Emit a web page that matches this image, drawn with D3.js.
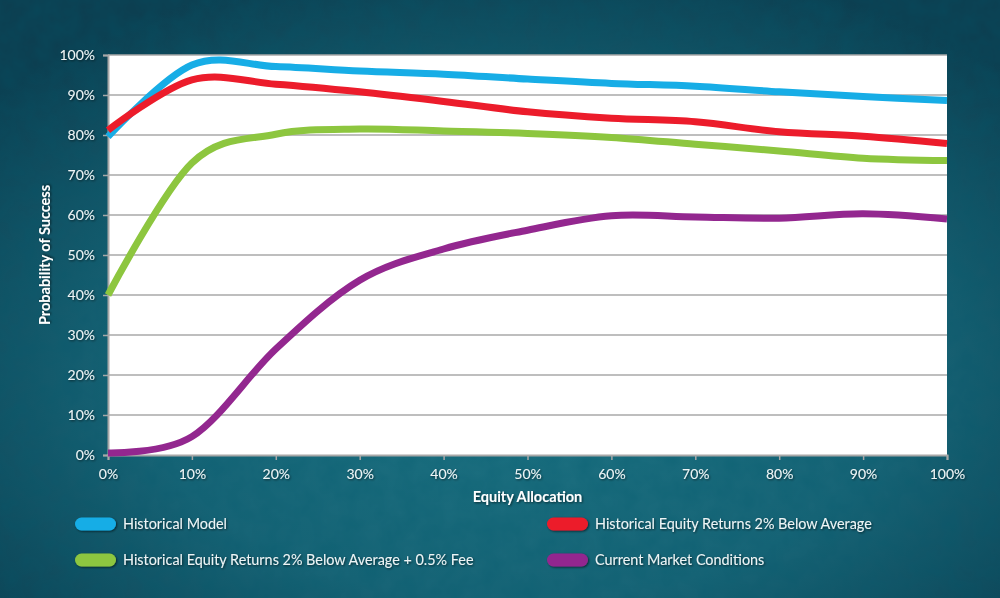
<!DOCTYPE html>
<html>
<head>
<meta charset="utf-8">
<script src="https://cdn.jsdelivr.net/npm/d3@7"></script>
<style>
  html, body { margin: 0; padding: 0; background: #145766; }
  svg { display: block; }
  text { font-family: Lato, "Open Sans", sans-serif; }
</style>
</head>
<body>
<svg id="chart"></svg>
<script>
// equity allocation (%), one reading every 10%
const allocations = [0, 10, 20, 30, 40, 50, 60, 70, 80, 90, 100];

const historicalModel = [79.6, 97.5, 97.1, 96.0, 95.2, 94.0, 92.9, 92.2, 90.8, 89.6, 88.6];
const belowAverage    = [81.2, 93.8, 92.7, 90.8, 88.4, 85.8, 84.2, 83.3, 80.8, 79.7, 77.9];
const belowAveragFee  = [40.0, 73.0, 80.2, 81.5, 81.0, 80.4, 79.4, 77.7, 76.0, 74.2, 73.6];
const currentMarket   = [0.5, 4.6, 26.5, 43.7, 51.5, 56.2, 59.8, 59.5, 59.2, 60.3, 59.0];

const seriesNames = [
    "Historical Model",
    "Historical Equity Returns 2% Below Average",
    "Historical Equity Returns 2% Below Average + 0.5% Fee",
    "Current Market Conditions"
];
const seriesColors = ["#17ade6", "#ec1c2b", "#8dc63f", "#93278f"];

const yTicks = [0, 10, 20, 30, 40, 50, 60, 70, 80, 90, 100];
const xTicks = [0, 10, 20, 30, 40, 50, 60, 70, 80, 90, 100];

const W = 1000, H = 598;
const margin = { top: 55, right: 53, bottom: 143, left: 108 };
const innerW = W - margin.left - margin.right;
const innerH = H - margin.top - margin.bottom;

const svg = d3.select("#chart").attr("width", W).attr("height", H);
const defs = svg.append("defs");

// teal background
const bg = defs.append("radialGradient").attr("id", "bg")
    .attr("cx", "52%").attr("cy", "62%").attr("r", "70%");
bg.append("stop").attr("offset", "0%").attr("stop-color", "#1d7484");
bg.append("stop").attr("offset", "55%").attr("stop-color", "#176476");
bg.append("stop").attr("offset", "100%").attr("stop-color", "#0c3f51");

const grain = defs.append("filter").attr("id", "grain")
    .attr("x", 0).attr("y", 0).attr("width", "100%").attr("height", "100%");
grain.append("feTurbulence").attr("type", "fractalNoise")
    .attr("baseFrequency", 0.05).attr("numOctaves", 3).attr("seed", 4);
grain.append("feColorMatrix").attr("type", "matrix")
    .attr("values", "0 0 0 0 0  0 0 0 0 0.1  0 0 0 0 0.15  0 0 0 0.4 -0.08");

const shadow = defs.append("filter").attr("id", "shadow")
    .attr("x", "-10%").attr("y", "-30%").attr("width", "120%").attr("height", "160%");
shadow.append("feDropShadow").attr("dx", 1).attr("dy", 1).attr("stdDeviation", 0.8)
    .attr("flood-color", "#000").attr("flood-opacity", 0.6);

svg.append("rect").attr("width", W).attr("height", H).attr("fill", "url(#bg)");
svg.append("rect").attr("width", W).attr("height", H).attr("filter", "url(#grain)");

const x = d3.scaleLinear().domain([0, 100]).range([0, innerW]);
const y = d3.scaleLinear().domain([0, 100]).range([innerH, 0]);

const g = svg.append("g").attr("transform", `translate(${margin.left},${margin.top})`);

g.append("rect").attr("width", innerW).attr("height", innerH).attr("fill", "#ffffff");

// gridlines
g.append("g").selectAll("line")
    .data(yTicks.slice(1))
    .join("line")
    .attr("x1", 0).attr("x2", innerW)
    .attr("y1", d => y(d)).attr("y2", d => y(d))
    .attr("stroke", "#a8a8a8").attr("stroke-width", 1.5);

const pct = d => d + "%";

const yAxis = g.append("g")
    .call(d3.axisLeft(y).tickValues(yTicks).tickFormat(pct).tickSize(5).tickPadding(8));
const xAxis = g.append("g")
    .attr("transform", `translate(0,${innerH})`)
    .call(d3.axisBottom(x).tickValues(xTicks).tickFormat(pct).tickSize(5).tickPadding(9));

[xAxis, yAxis].forEach(a => {
    a.select(".domain").attr("stroke", "#a8a8a8").attr("stroke-width", 2);
    a.selectAll(".tick line").attr("stroke", "#a8a8a8").attr("stroke-width", 1.5);
    a.selectAll(".tick text")
        .attr("fill", "#eef4f5")
        .attr("font-size", 14)
        .attr("font-family", "Lato, 'Open Sans', sans-serif")
        .attr("filter", "url(#shadow)");
});

// lines
const allSeries = [historicalModel, belowAverage, belowAveragFee, currentMarket];
const line = d3.line()
    .x((d, i) => x(allocations[i]))
    .y(d => y(d))
    .curve(d3.curveCardinal.tension(0));

g.append("g").selectAll("path")
    .data(allSeries)
    .join("path")
    .attr("d", d => line(d))
    .attr("fill", "none")
    .attr("stroke", (d, i) => seriesColors[i])
    .attr("stroke-width", 7)
    .attr("stroke-linejoin", "round");

// axis titles
svg.append("text")
    .attr("x", margin.left + innerW / 2).attr("y", 502)
    .attr("text-anchor", "middle")
    .attr("font-size", 14.5).attr("font-weight", "bold").attr("fill", "#ffffff")
    .attr("filter", "url(#shadow)")
    .text("Equity Allocation");

svg.append("text")
    .attr("transform", `translate(50,${margin.top + innerH / 2}) rotate(-90)`)
    .attr("text-anchor", "middle")
    .attr("font-size", 14.5).attr("font-weight", "bold").attr("fill", "#ffffff")
    .attr("filter", "url(#shadow)")
    .text("Probability of Success");

// legend
const legendPos = [[75, 524], [547, 524], [75, 560], [547, 560]];
const legend = svg.append("g").selectAll("g")
    .data(seriesNames)
    .join("g")
    .attr("transform", (d, i) => `translate(${legendPos[i][0]},${legendPos[i][1]})`);

legend.append("rect")
    .attr("x", 0).attr("y", -6.5).attr("width", 41).attr("height", 13)
    .attr("rx", 6.5)
    .attr("fill", (d, i) => seriesColors[i])
    .attr("filter", "url(#shadow)");

legend.append("text")
    .attr("x", 48).attr("y", 0).attr("dy", "0.35em")
    .attr("font-size", 14.4).attr("fill", "#eef4f5")
    .attr("filter", "url(#shadow)")
    .text(d => d);
</script>
</body>
</html>
